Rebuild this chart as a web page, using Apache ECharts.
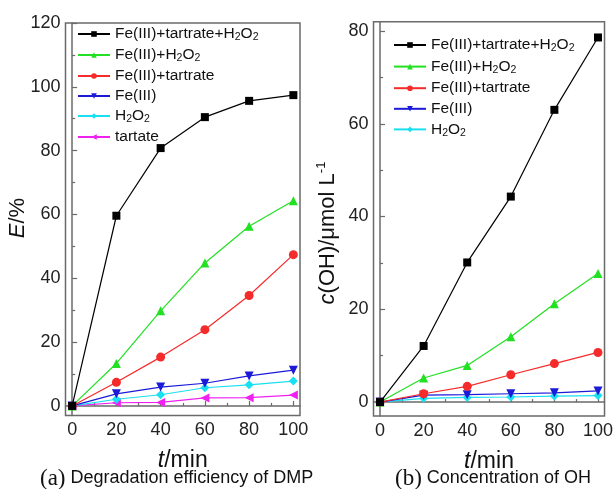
<!DOCTYPE html>
<html><head><meta charset="utf-8">
<script src="https://cdn.jsdelivr.net/npm/echarts@6/dist/echarts.min.js"></script>
<style>html,body{margin:0;padding:0;background:#fff}#c{width:616px;height:489px}</style>
</head><body><div id="c"></div>
<script>
const times = [0, 20, 40, 60, 80, 100];
const xTicks = [0, 20, 40, 60, 80, 100];
const xMinor = [10, 30, 50, 70, 90];
const yTicksA = [0, 20, 40, 60, 80, 100, 120];
const yMinorA = [10, 30, 50, 70, 90, 110];
const yTicksB = [0, 20, 40, 60, 80];
const yMinorB = [10, 30, 50, 70];

// (a) Degradation efficiency E/%
const aFeTarH2O2 = [0, 59.6, 80.8, 90.5, 95.6, 97.4];
const aFeH2O2    = [0, 13.3, 29.8, 44.8, 56.3, 64.3];
const aFeTar     = [0, 7.4, 15.3, 23.9, 34.6, 47.4];
const aFe        = [0, 3.8, 5.9, 7.1, 9.4, 11.2];
const aH2O2      = [0, 2.1, 3.5, 5.7, 6.6, 7.8];
const aTartate   = [0, 1.0, 1.1, 2.5, 2.6, 3.4];

// (b) c(OH) / umol L-1
const bFeTarH2O2 = [0, 12.1, 30.1, 44.3, 63.0, 78.6];
const bFeH2O2    = [0, 5.2, 7.9, 14.1, 21.2, 27.7];
const bFeTar     = [0, 1.8, 3.4, 5.9, 8.3, 10.7];
const bFe        = [0, 1.5, 1.6, 1.8, 2.0, 2.4];
const bH2O2      = [0, 0.8, 1.0, 1.1, 1.3, 1.4];

const names = ['Fe(III)+tartrate+H2O2', 'Fe(III)+H2O2', 'Fe(III)+tartrate', 'Fe(III)', 'H2O2', 'tartate'];
const colors = ['#000000', '#22e022', '#f52a2a', '#1a1ad8', '#19e0f0', '#f020f0'];
const symbols = ['rect', 'triangle', 'circle', 'triangle', 'diamond', 'triangle'];
const rots = [0, 0, 0, 180, 0, 90];
const sizes = [8, 9, 9, 9, 9, 9];

function pairs(v) { return times.map((t, i) => [t, v[i]]); }
function legendFmt(n) {
  return n.replace(/H2O2/, '{n|H}{s|2}{n|O}{s|2}').replace(/^([^{]+)/, '{n|$1}');
}
const FONT = 'Liberation Sans, Arial, sans-serif';
const axisCol = '#6a6a6a';

function mkSeries(dataArr, xi, yi) {
  return dataArr.map((d, i) => ({
    name: names[i], type: 'line', xAxisIndex: xi, yAxisIndex: yi,
    data: pairs(d), symbol: symbols[i], symbolSize: sizes[i], symbolRotate: rots[i],
    showSymbol: true, clip: false,
    lineStyle: { color: colors[i], width: 1.2 },
    itemStyle: { color: colors[i] },
    emphasis: { disabled: true }, z: 10 - i
  }));
}

function xAxisMain(gi) {
  return {
    type: 'value', gridIndex: gi, min: -3, max: 103,
    name: '{i|t}{n|/min}', nameLocation: 'middle', nameGap: 34,
    nameTextStyle: { rich: { i: { fontFamily: FONT, fontSize: 23, fontStyle: 'italic', color: '#111' }, n: { fontFamily: FONT, fontSize: 23, color: '#111' } } },
    axisLine: { show: true, lineStyle: { color: axisCol, width: 1.5 } },
    axisTick: { show: true, inside: true, length: 5, customValues: xTicks, lineStyle: { color: axisCol, width: 1.2 } },
    axisLabel: { show: true, customValues: xTicks, margin: 6, fontFamily: FONT, fontSize: 18, color: '#222' },
    splitLine: { show: false }
  };
}
function xAxisMinor(gi) {
  return {
    type: 'value', gridIndex: gi, min: -3, max: 103, position: 'bottom',
    axisLine: { show: false },
    axisTick: { show: true, inside: true, length: 3, customValues: xMinor, lineStyle: { color: axisCol, width: 1.2 } },
    axisLabel: { show: false }, splitLine: { show: false }
  };
}
function yAxisMain(gi, min, max, ticks) {
  return {
    type: 'value', gridIndex: gi, min: min, max: max,
    axisLine: { show: true, lineStyle: { color: axisCol, width: 1.5 } },
    axisTick: { show: true, inside: true, length: 5, customValues: ticks, lineStyle: { color: axisCol, width: 1.2 } },
    axisLabel: { show: true, customValues: ticks, margin: 5, fontFamily: FONT, fontSize: 18, color: '#222' },
    splitLine: { show: false }
  };
}
function yAxisMinor(gi, min, max, ticks) {
  return {
    type: 'value', gridIndex: gi, min: min, max: max, position: 'left',
    axisLine: { show: false },
    axisTick: { show: true, inside: true, length: 3, customValues: ticks, lineStyle: { color: axisCol, width: 1.2 } },
    axisLabel: { show: false }, splitLine: { show: false }
  };
}

const legendRich = {
  n: { fontFamily: FONT, fontSize: 15.5, color: '#111', lineHeight: 18 },
  s: { fontFamily: FONT, fontSize: 10.5, color: '#111', lineHeight: 10, verticalAlign: 'bottom' }
};
const capRich = {
  p: { fontFamily: 'Liberation Serif, serif', fontSize: 23, fontWeight: 'normal', color: '#111' },
  n: { fontFamily: FONT, fontSize: 18, fontWeight: 'normal', color: '#111' }
};

const option = {
  animation: false,
  backgroundColor: '#fff',
  grid: [
    { left: 65.5, top: 23, width: 234.5, height: 392.5, show: true, borderColor: axisCol, borderWidth: 1.5, backgroundColor: 'transparent' },
    { left: 373.5, top: 21.7, width: 234, height: 394.3, show: true, borderColor: axisCol, borderWidth: 1.5, backgroundColor: 'transparent' }
  ],
  xAxis: [xAxisMain(0), xAxisMinor(0), xAxisMain(1), xAxisMinor(1)],
  yAxis: [
    yAxisMain(0, -3, 120, yTicksA),
    yAxisMinor(0, -3, 120, yMinorA),
    yAxisMain(1, -3, 82, yTicksB),
    yAxisMinor(1, -3, 82, yMinorB)
  ],
  legend: [
    { data: names, left: 72, top: 21, orient: 'vertical', itemWidth: 32, itemHeight: 7, itemGap: 4,
      formatter: legendFmt, textStyle: { rich: legendRich }, selectedMode: false },
    { data: names.slice(0, 5), left: 388, top: 32, orient: 'vertical', itemWidth: 32, itemHeight: 7, itemGap: 4.6,
      formatter: legendFmt, textStyle: { rich: legendRich }, selectedMode: false }
  ],
  title: [
    { text: '{p|(a)}{n| Degradation efficiency of DMP}', left: 35, top: 462,
      textStyle: { fontWeight: 'normal', rich: capRich } },
    { text: '{p|(b)}{n| Concentration of OH}', left: 390, top: 462,
      textStyle: { fontWeight: 'normal', rich: capRich } }
  ],
  graphic: [
    { type: 'text', x: 18, y: 218, rotation: Math.PI / 2,
      style: { text: '{i|E}{n|/%}', align: 'center', verticalAlign: 'middle',
        rich: { i: { fontFamily: FONT, fontSize: 22, fontStyle: 'italic', fill: '#111' }, n: { fontFamily: FONT, fontSize: 22, fill: '#111' } } } },
    { type: 'text', x: 328, y: 233, rotation: Math.PI / 2,
      style: { text: '{i|c}{n|(OH)/μmol L}{sup|-1}', align: 'center', verticalAlign: 'middle',
        rich: {
          i: { fontFamily: FONT, fontSize: 22, fontStyle: 'italic', fill: '#111', lineHeight: 26 },
          n: { fontFamily: FONT, fontSize: 22, fill: '#111', lineHeight: 26 },
          sup: { fontFamily: FONT, fontSize: 13, fill: '#111', lineHeight: 13, verticalAlign: 'top' } } } }
  ],
  series: [].concat(
    mkSeries([aFeTarH2O2, aFeH2O2, aFeTar, aFe, aH2O2, aTartate], 0, 0),
    mkSeries([bFeTarH2O2, bFeH2O2, bFeTar, bFe, bH2O2], 2, 2)
  )
};

const chart = echarts.init(document.getElementById('c'), null, { renderer: 'canvas' });
chart.setOption(option);
</script>
</body></html>
